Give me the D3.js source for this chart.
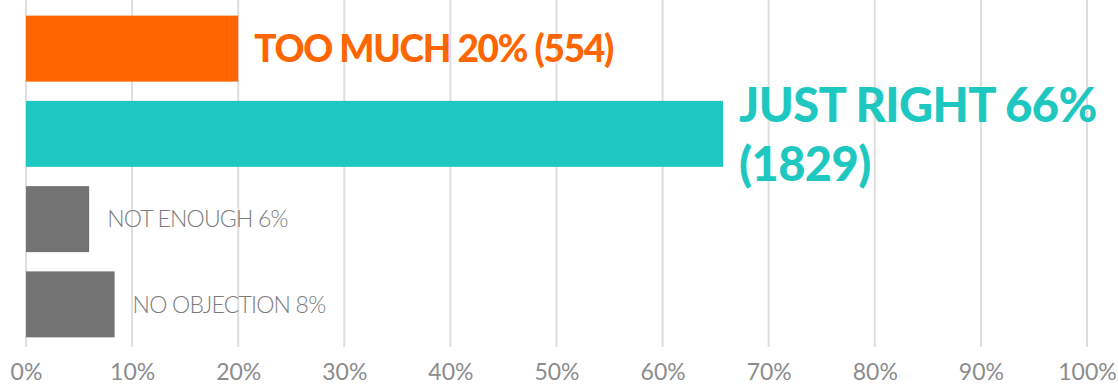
<!DOCTYPE html>
<html>
<head>
<meta charset="utf-8">
<script src="https://cdn.jsdelivr.net/npm/d3@7"></script>
<style>
  body { margin: 0; background: #fff; }
  .tick text { font-family: Lato, sans-serif; }
</style>
</head>
<body>
<svg width="1118" height="389"></svg>
<script>
// chart values
var categories = ["TOO MUCH", "JUST RIGHT", "NOT ENOUGH", "NO OBJECTION"];
var percents = [20, 65.7, 5.95, 8.35];
var labels = [["TOO MUCH 20% (554)"], ["JUST RIGHT 66%", "(1829)"], ["NOT ENOUGH 6%"], ["NO OBJECTION 8%"]];
var tickValues = [0, 10, 20, 30, 40, 50, 60, 70, 80, 90, 100];

var colors = ["#ff6600", "#1ec8c0", "#737373", "#737373"];

var svg = d3.select("svg"),
    width = +svg.attr("width"),
    height = +svg.attr("height");

var x = d3.scaleLinear().domain([0, 100]).range([26, 1087]);
var y = d3.scaleBand().domain(categories).range([6, 347])
    .paddingInner(0.226).paddingOuter(0.113);

// vertical gridlines
svg.append("g")
    .selectAll("line")
    .data(tickValues)
    .enter().append("line")
      .attr("x1", function(d) { return x(d); })
      .attr("x2", function(d) { return x(d); })
      .attr("y1", 0)
      .attr("y2", 347)
      .attr("stroke", "#dedede")
      .attr("stroke-width", 2);

// x axis labels
var axis = svg.append("g")
    .attr("transform", "translate(0,362)")
    .call(d3.axisBottom(x).tickValues(tickValues).tickSize(0).tickPadding(0)
      .tickFormat(function(d) { return d + "%"; }));
axis.select(".domain").remove();
axis.selectAll("text")
    .attr("dy", "0.8em")
    .attr("fill", "#8c8c8c")
    .attr("font-size", 23)
    .attr("font-weight", 400);

// bars
var data = categories.map(function(c, i) {
  return { cat: c, value: percents[i], label: labels[i], color: colors[i], i: i };
});

svg.append("g")
  .selectAll("rect")
  .data(data)
  .enter().append("rect")
    .attr("x", x(0))
    .attr("y", function(d) { return y(d.cat); })
    .attr("width", function(d) { return x(d.value) - x(0); })
    .attr("height", y.bandwidth())
    .attr("fill", function(d) { return d.color; });

// bar labels
var lab = svg.append("g")
  .selectAll("text")
  .data(data)
  .enter().append("text")
    .attr("font-family", "Lato, sans-serif")
    .attr("fill", function(d) { return d.i < 2 ? d.color : "#7c7c7c"; })
    .attr("font-size", function(d) { return d.i == 0 ? 37 : d.i == 1 ? 47 : 23; })
    .attr("font-weight", function(d) { return d.i < 2 ? 900 : 300; })
    .attr("letter-spacing", function(d) { return d.i == 0 ? -1.3 : d.i == 1 ? -0.6 : -0.8; });

lab.each(function(d) {
  var t = d3.select(this);
  var gap = d.i < 2 ? 16 : 18;
  var x0 = x(d.value) + gap;
  if (d.label.length == 1) {
    t.append("tspan")
      .attr("x", x0)
      .attr("y", y(d.cat) + y.bandwidth() / 2)
      .attr("dy", "0.36em")
      .text(d.label[0]);
  } else {
    t.append("tspan").attr("x", x0).attr("y", 122).text(d.label[0]);
    t.append("tspan").attr("x", x0).attr("y", 181).text(d.label[1]);
  }
});
</script>
</body>
</html>
